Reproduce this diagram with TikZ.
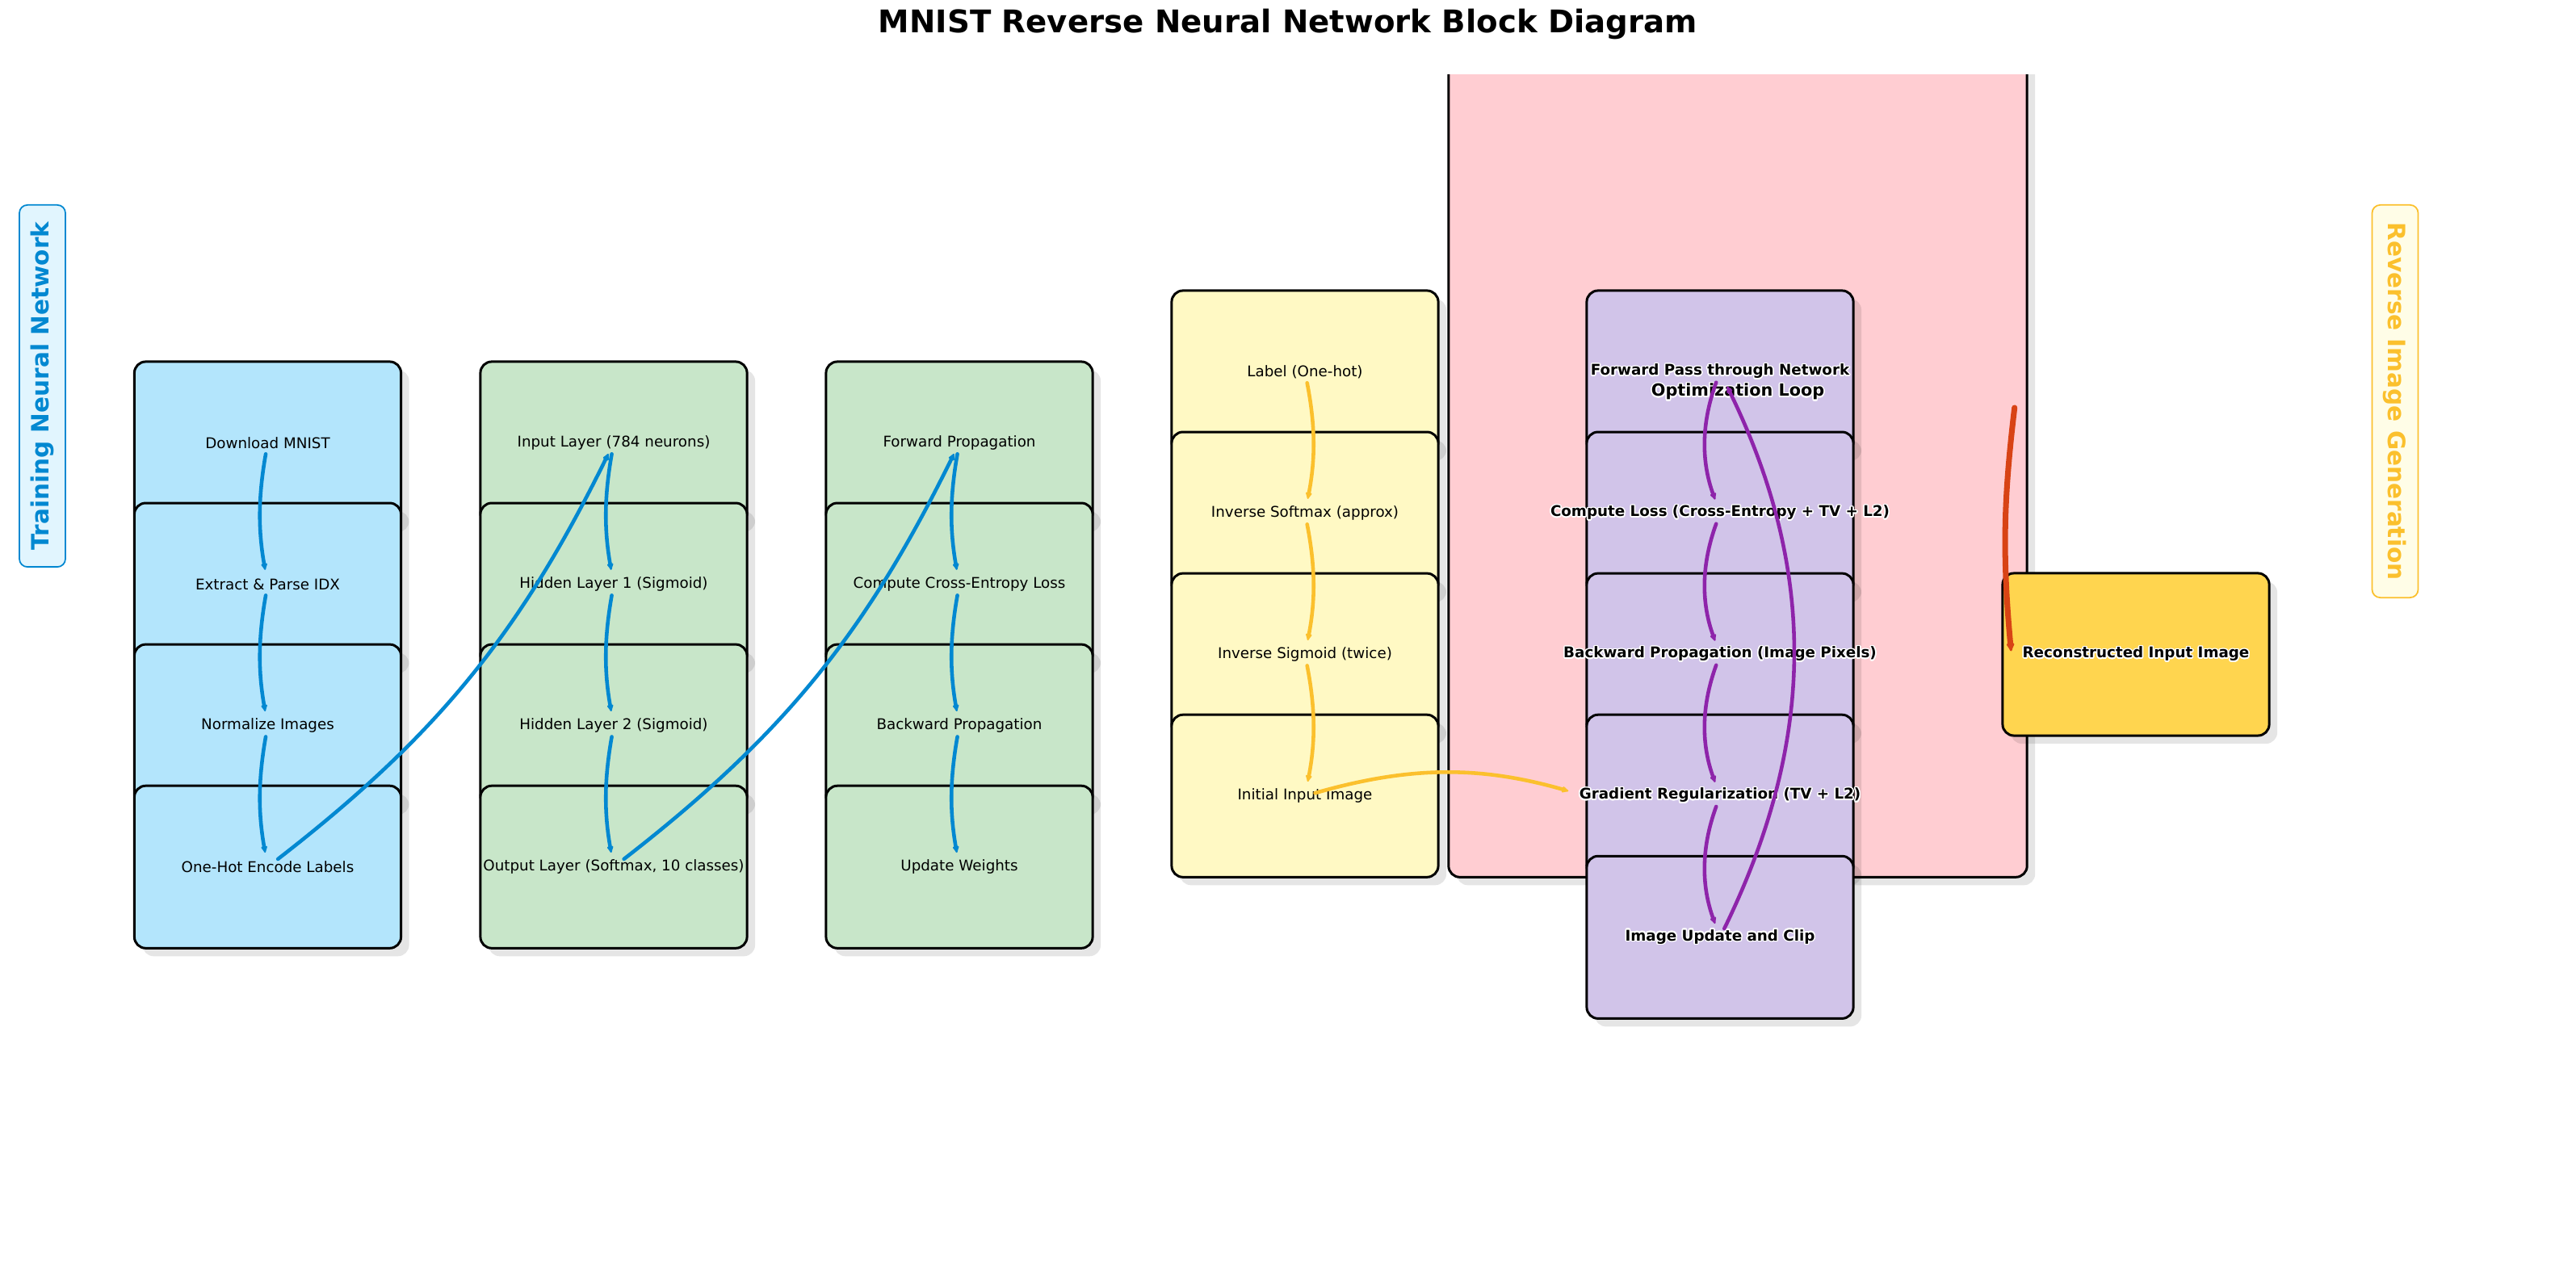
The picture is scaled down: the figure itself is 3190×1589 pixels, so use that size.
\documentclass[tikz,border=0pt]{standalone}
\usepackage{fontspec}
\setmainfont{DejaVu Sans}
\usepackage{contour}
\contourlength{0.45pt}
\usepackage{tikz}
\usetikzlibrary{positioning,shadows,arrows.meta}

\definecolor{trainblue}{HTML}{0288D1}
\definecolor{trainfill}{HTML}{B3E5FC}
\definecolor{trainlblfill}{HTML}{E1F5FE}
\definecolor{netgreen}{HTML}{C8E6C9}
\definecolor{revyellow}{HTML}{FFF9C4}
\definecolor{revarrow}{HTML}{FBC02D}
\definecolor{revlblfill}{HTML}{FFFDE7}
\definecolor{optpurple}{HTML}{D1C4E9}
\definecolor{optarrow}{HTML}{8E24AA}
\definecolor{looppink}{HTML}{FFCDD2}
\definecolor{recgold}{HTML}{FFD54F}
\definecolor{outred}{HTML}{D84315}

\newcommand{\halo}[1]{\contour{white}{#1}}

\tikzset{
  boxshadow/.style={drop shadow={shadow xshift=0.1cm, shadow yshift=-0.1cm, fill=black, opacity=0.1}},
  block/.style={draw=black, line width=0.85pt, rounded corners=0.14cm,
    minimum width=3.3cm, minimum height=2.01cm, inner sep=0pt,
    font=\fontsize{5.2}{6}\selectfont,
    execute at begin node={\hbox to 0pt\bgroup\hss},
    execute at end node={\hss\egroup}, boxshadow},
  optblock/.style={block, fill=optpurple, font=\fontsize{5.2}{6}\selectfont\bfseries},
  cluster/.style={draw=black, line width=0.85pt, rounded corners=0.14cm, fill=looppink,
    minimum width=7.16cm, minimum height=12cm, boxshadow},
  sidelabel/.style={rounded corners=0.1cm, line width=0.5pt, minimum height=0.57cm,
    inner sep=0pt, font=\fontsize{8.4}{10}\selectfont\bfseries},
  flow/.style={line width=1.3pt, line cap=round, -{Latex[round,length=3pt,width=2.7pt]},
    shorten <=0.14cm, shorten >=0.18cm},
  bflow/.style={flow, draw=trainblue},
  yflow/.style={flow, draw=revarrow},
  pflow/.style={flow, draw=optarrow},
  rflow/.style={line width=2pt, line cap=round, draw=outred, -{Latex[round,length=3.6pt,width=3.4pt]}},
}

\begin{document}
\begin{tikzpicture}[x=0.01cm, y=-0.01cm]
\useasboundingbox (0,0) rectangle (3190,1589);

\node[font=\fontsize{11}{13}\selectfont\bfseries, anchor=base] (title) at (1595,41) {MNIST Reverse Neural Network Block Diagram};

\node[sidelabel, draw=trainblue, fill=trainlblfill, text=trainblue, rotate=90, minimum width=4.48cm] (trainlbl) at (52.5,478) {Training Neural Network};
\node[sidelabel, draw=revarrow, fill=revlblfill, text=revarrow, rotate=-90, minimum width=4.86cm] (revlbl) at (2966,497) {Reverse Image Generation};

% training data
\node[block, fill=trainfill] (download) at (331.5,548.5) {Download MNIST};
\node[block, fill=trainfill, below=-0.29cm of download] (parse) {Extract \& Parse IDX};
\node[block, fill=trainfill, below=-0.29cm of parse] (normalize) {Normalize Images};
\node[block, fill=trainfill, below=-0.29cm of normalize] (onehot) {One-Hot Encode Labels};

% network layers
\node[block, fill=netgreen] (inlayer) at (760,548.5) {Input Layer (784 neurons)};
\node[block, fill=netgreen, below=-0.29cm of inlayer] (hidden1) {Hidden Layer 1 (Sigmoid)};
\node[block, fill=netgreen, below=-0.29cm of hidden1] (hidden2) {Hidden Layer 2 (Sigmoid)};
\node[block, fill=netgreen, below=-0.29cm of hidden2] (outlayer) {Output Layer (Softmax, 10 classes)};

% training steps
\node[block, fill=netgreen] (fwdprop) at (1188,548.5) {Forward Propagation};
\node[block, fill=netgreen, below=-0.29cm of fwdprop] (celoss) {Compute Cross-Entropy Loss};
\node[block, fill=netgreen, below=-0.29cm of celoss] (backprop) {Backward Propagation};
\node[block, fill=netgreen, below=-0.29cm of backprop] (update) {Update Weights};

% reverse start
\node[block, fill=revyellow] (labelhot) at (1616,460.5) {Label (One-hot)};
\node[block, fill=revyellow, below=-0.29cm of labelhot] (invsoft) {Inverse Softmax (approx)};
\node[block, fill=revyellow, below=-0.29cm of invsoft] (invsig) {Inverse Sigmoid (twice)};
\node[block, fill=revyellow, below=-0.29cm of invsig] (initimg) {Initial Input Image};

% optimization loop
\begin{scope}
  \clip (0,93) rectangle (3190,1589);
  \node[cluster] (loop) at (2152,486) {};
\end{scope}
\node[optblock] (fpass) at (2130,460.5) {\halo{Forward Pass through Network}};
\node[optblock, below=-0.29cm of fpass] (closs) {\halo{Compute Loss (Cross-Entropy + TV + L2)}};
\node[optblock, below=-0.29cm of closs] (bprop) {\halo{Backward Propagation (Image Pixels)}};
\node[optblock, below=-0.29cm of bprop] (gradreg) {\halo{Gradient Regularization (TV + L2)}};
\node[optblock, below=-0.29cm of gradreg] (imgupd) {\halo{Image Update and Clip}};
\node[font=\fontsize{5.9}{7}\selectfont\bfseries] (looplbl) at (loop.center) {\halo{Optimization Loop}};

\node[block, fill=recgold, font=\fontsize{5.2}{6}\selectfont\bfseries] (recon) at (2645,810.5) {\halo{Reconstructed Input Image}};

% arrows
\draw[bflow] (download.center) to[bend right=10] (parse.center);
\draw[bflow] (parse.center) to[bend right=10] (normalize.center);
\draw[bflow] (normalize.center) to[bend right=10] (onehot.center);
\draw[bflow] (inlayer.center) to[bend right=10] (hidden1.center);
\draw[bflow] (hidden1.center) to[bend right=10] (hidden2.center);
\draw[bflow] (hidden2.center) to[bend right=10] (outlayer.center);
\draw[bflow] (fwdprop.center) to[bend right=10] (celoss.center);
\draw[bflow] (celoss.center) to[bend right=10] (backprop.center);
\draw[bflow] (backprop.center) to[bend right=10] (update.center);
\draw[bflow, shorten <=0.16cm, shorten >=0.15cm] (onehot.center) to[bend right=13] (inlayer.center);
\draw[bflow, shorten <=0.16cm, shorten >=0.15cm] (outlayer.center) to[bend right=13] (fwdprop.center);

\draw[yflow] (labelhot.center) to[bend left=11] (invsoft.center);
\draw[yflow] (invsoft.center) to[bend left=11] (invsig.center);
\draw[yflow] (invsig.center) to[bend left=11] (initimg.center);
\draw[yflow, shorten <=0.13cm, shorten >=0.22cm] (initimg.center) to[bend left=16] (gradreg.west);

\draw[pflow] (fpass.center) to[bend right=20] (closs.center);
\draw[pflow] (closs.center) to[bend right=20] (bprop.center);
\draw[pflow] (bprop.center) to[bend right=20] (gradreg.center);
\draw[pflow] (gradreg.center) to[bend right=20] (imgupd.center);
\draw[pflow, shorten <=0.12cm, shorten >=0.2cm] (imgupd.center) to[bend right=26] (fpass.center);

\coordinate (loopout) at ([shift={(-17,19)}]loop.east);
\draw[rflow] (loopout) to[bend right=6] ([shift={(12,-4)}]recon.west);
\end{tikzpicture}
\end{document}
